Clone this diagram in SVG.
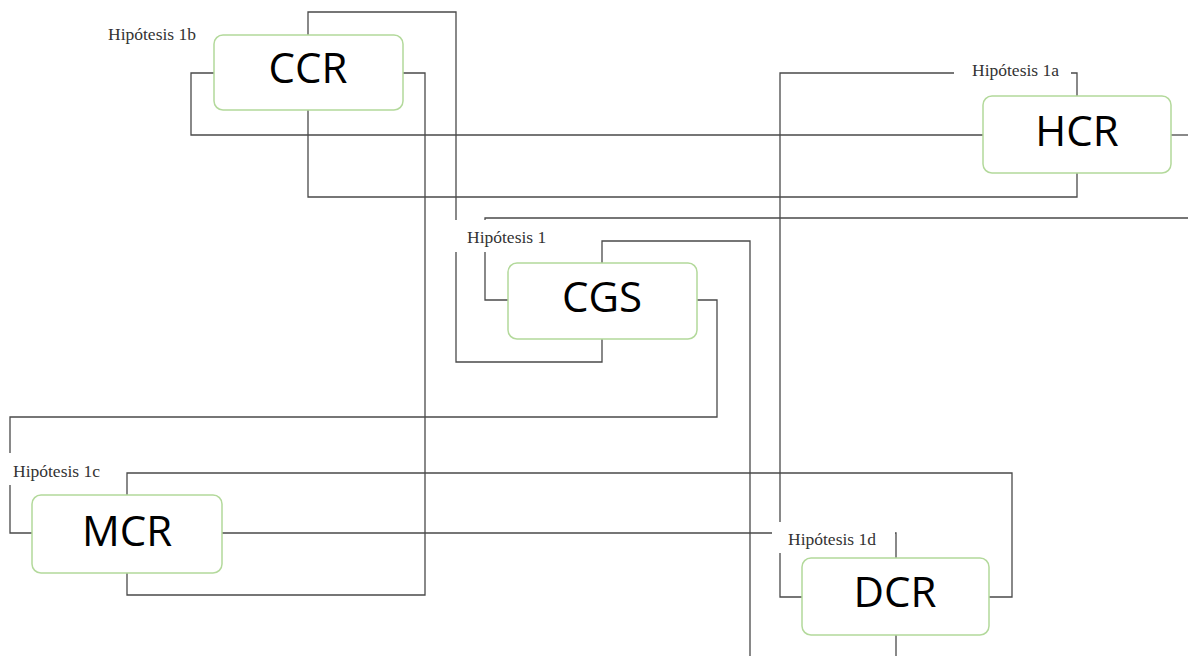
<svg xmlns="http://www.w3.org/2000/svg" width="1188" height="656" viewBox="0 0 1188 656">
<style>
.c{fill:none;stroke:#4a4a4a;stroke-width:1.3}
.n{fill:#fff;stroke:#b3d99b;stroke-width:1.5}
.t{font-family:"Open Sans",sans-serif;font-size:42px;fill:#000;text-anchor:middle}
.lb{fill:#fff;stroke:none}
.l{font-family:"Liberation Serif",serif;font-size:17.5px;fill:#333}
</style>
<rect width="1188" height="656" fill="#fff"/>
<g id="connectors">
<path class="c" d="M308,35 V12 H456 V362 H602 V339"/>
<path class="c" d="M214,73 H191 V135 H983"/>
<path class="c" d="M308,110 V197 H1077 V173"/>
<path class="c" d="M403,73 H425 V595 H127 V573"/>
<path class="c" d="M1077,96 V73 H780 V597 H802"/>
<path class="c" d="M1171,135 H1188"/>
<path class="c" d="M508,300 H485 V218 H1188"/>
<path class="c" d="M602,263 V241 H750 V656"/>
<path class="c" d="M697,300 H717 V417 H10 V533 H32"/>
<path class="c" d="M127,495 V473 H1012 V597 H989"/>
<path class="c" d="M222,533 H896 V558"/>
<path class="c" d="M896,635 V656"/>
</g>
<g id="labels">
<rect class="lb" x="104" y="25" width="96" height="21"/>
<text class="l" x="108" y="40">Hipótesis 1b</text>
<rect class="lb" x="954" y="60" width="117" height="25"/>
<text class="l" x="972" y="76">Hipótesis 1a</text>
<rect class="lb" x="450" y="220" width="102" height="32"/>
<text class="l" x="467" y="243">Hipótesis 1</text>
<rect class="lb" x="4" y="453" width="102" height="32"/>
<text class="l" x="13" y="477">Hipótesis 1c</text>
<rect class="lb" x="772" y="522" width="123" height="31"/>
<text class="l" x="788" y="545">Hipótesis 1d</text>
</g>
<g id="CCR"><rect class="n" x="214" y="35" width="189" height="75" rx="9"/><text class="t" x="308" y="83">CCR</text></g>
<g id="HCR"><rect class="n" x="983" y="96" width="188" height="77" rx="9"/><text class="t" x="1077" y="146">HCR</text></g>
<g id="CGS"><rect class="n" x="508" y="263" width="189" height="76" rx="9"/><text class="t" x="602" y="312">CGS</text></g>
<g id="MCR"><rect class="n" x="32" y="495" width="190" height="78" rx="9"/><text class="t" x="127" y="546">MCR</text></g>
<g id="DCR"><rect class="n" x="802" y="558" width="187" height="77" rx="9"/><text class="t" x="895" y="607">DCR</text></g>
</svg>
